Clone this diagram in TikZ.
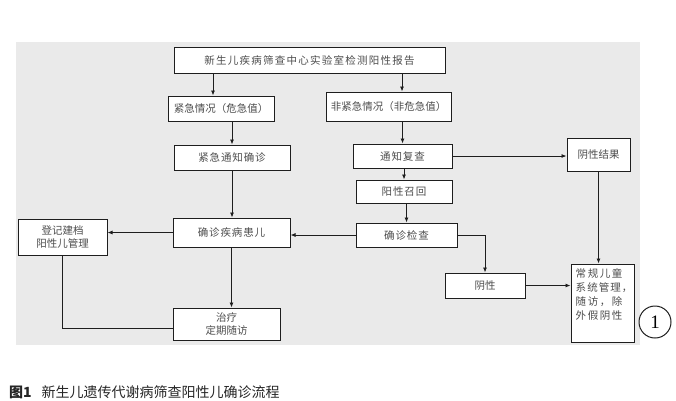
\documentclass[tikz,border=0pt]{standalone}
\usepackage{fontspec}
\setmainfont{Noto Sans CJK SC}
\newfontfamily\numfont{Liberation Serif}
\usepackage{xcolor}
\usepackage{tikz}
\usetikzlibrary{arrows.meta}
\definecolor{flowpanel}{HTML}{EAEAEA}
\definecolor{flowtext}{HTML}{4D4D4D}
\definecolor{flowline}{HTML}{1E1E1E}

\begin{document}
\begin{tikzpicture}[x=1pt,y=-1pt,
  box/.style={draw=flowline,line width=1pt,fill=white,inner sep=0pt,font=\fontsize{10.5}{13}\selectfont,text=flowtext,align=center},
  link/.style={-{Latex[length=5pt,width=4pt]},flowline,line width=0.8pt},
  plain/.style={flowline,line width=0.8pt}
]
\useasboundingbox (0,0) rectangle (676,400);
\fill[white] (0,0) rectangle (676,400);
\fill[flowpanel] (16,42) rectangle (640,345);

\node[box,minimum width=271,minimum height=26] (top) at (309.5,60) {\addfontfeature{LetterSpace=12}新生儿疾病筛查中心实验室检测阳性报告};
\node[box,minimum width=106,minimum height=25] (jq) at (221,108.5) {紧急情况（危急值）};
\node[box,minimum width=125,minimum height=29] (fq) at (388.5,106.5) {非紧急情况（非危急值）};
\node[box,minimum width=116,minimum height=25] (jt) at (232,157.5) {\addfontfeature{LetterSpace=8}紧急通知确诊};
\node[box,minimum width=99,minimum height=24] (tf) at (402.5,156) {\addfontfeature{LetterSpace=8}通知复查};
\node[box,minimum width=63,minimum height=33] (yj) at (598.5,154.5) {阴性结果};
\node[box,minimum width=96,minimum height=23] (zh) at (404,191.5) {\addfontfeature{LetterSpace=8}阳性召回};
\node[box,minimum width=101,minimum height=24] (jc) at (406.5,235) {\addfontfeature{LetterSpace=8}确诊检查};
\node[box,minimum width=117,minimum height=29] (hz) at (231.5,232.5) {\addfontfeature{LetterSpace=8}确诊疾病患儿};
\node[box,minimum width=89,minimum height=36] (dj) at (62.5,237) {登记建档\\阳性儿管理};
\node[box,minimum width=107,minimum height=32] (zl) at (226.5,324) {治疗\\定期随访};
\node[box,minimum width=80,minimum height=25] (yx) at (485,285.5) {阴性};
\node[box,minimum width=63,minimum height=78] (rc) at (602.5,303) {};
\node[anchor=north west,inner sep=0pt,align=left,text=flowtext,font=\fontsize{10.5}{14}\selectfont] (rct) at ([xshift=5,yshift=-5]rc.north west) {\addfontfeature{LetterSpace=15}常规儿童\\\addfontfeature{LetterSpace=10}系统管理，\\\addfontfeature{LetterSpace=15}随访，除\\\addfontfeature{LetterSpace=15}外假阴性};
\node[draw=flowline,line width=1pt,circle,minimum size=32,inner sep=0pt,font=\numfont\fontsize{19}{19}\selectfont] (num) at (655,322) {1};

\coordinate (jqin) at ([xshift=-8]jq.north);
\coordinate (fqin) at ([xshift=13.5]fq.north);
\draw[link] (top.south -| jqin) -- (jqin);
\draw[link] (top.south -| fqin) -- (fqin);
\draw[link] (jq.south -| jt.north) -- (jt.north);
\draw[link] (fq.south -| tf.north) -- (tf.north);
\draw[link] (tf.east) -- (tf.east -| yj.west);
\draw[link] (tf.south -| zh.north) -- (zh.north);
\draw[link] (zh.south -| jc.north) -- (jc.north);
\draw[link] (jt.south) -- (jt.south |- hz.north);
\draw[link] (jc.west) -- (jc.west -| hz.east);
\draw[link] (hz.west) -- (hz.west -| dj.east);
\draw[link] (hz.south) -- (hz.south |- zl.north);
\draw[plain] (dj.south) |- ([yshift=-4]zl.west);
\draw[link] (jc.east) -| (yx.north);
\draw[link] (yj.south) -- (yj.south |- rc.north);
\draw[link] (yx.east) -- (yx.east -| rc.west);

\node[anchor=west,inner sep=0pt,text=black!85,font=\fontsize{14}{16}\selectfont] (cap) at (9,392) {\textbf{图1}\hspace{10pt}新生儿遗传代谢病筛查阳性儿确诊流程};
\end{tikzpicture}
\end{document}
